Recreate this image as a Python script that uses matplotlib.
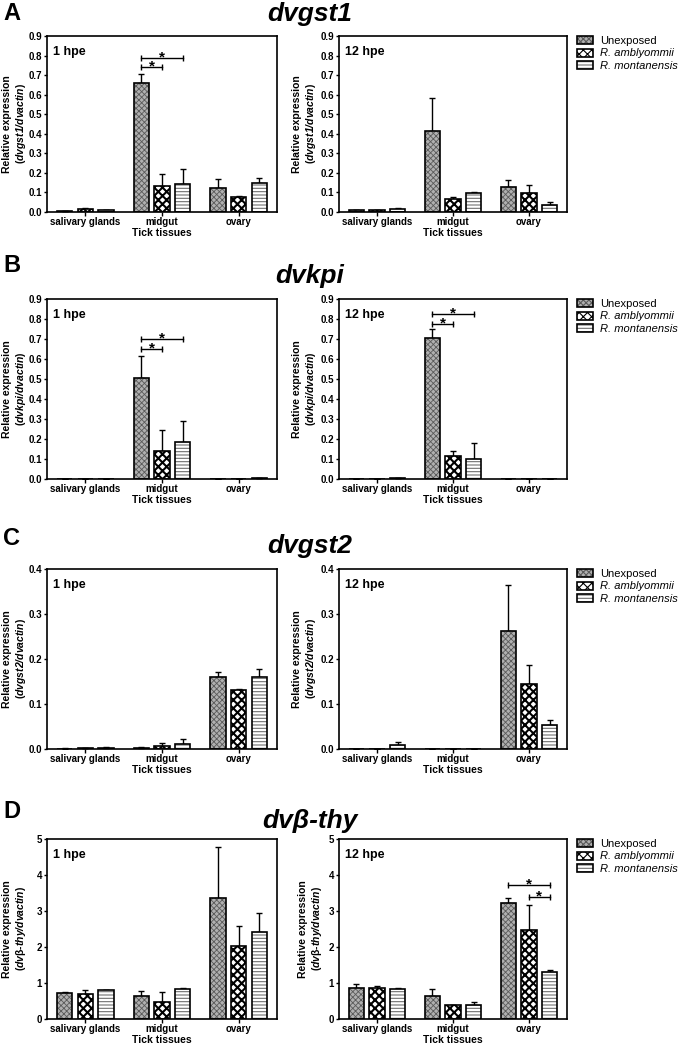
import matplotlib
matplotlib.use('Agg')
import matplotlib.pyplot as plt
import numpy as np
from matplotlib.patches import Patch

plt.rcParams['font.family'] = ['Liberation Sans', 'DejaVu Sans']
plt.rcParams['font.weight'] = 'bold'
plt.rcParams['axes.labelweight'] = 'bold'
plt.rcParams['mathtext.fontset'] = 'custom'
plt.rcParams['mathtext.bfit'] = 'Liberation Sans:italic:bold'
plt.rcParams['mathtext.rm'] = 'Liberation Sans:bold'
plt.rcParams['hatch.linewidth'] = 0.8

# ---------------- data ----------------
tissues = ['salivary glands', 'midgut', 'ovary']
groups = ['Unexposed', 'R. amblyommii', 'R. montanensis']

# rows: Unexposed, R. amblyommii, R. montanensis ; columns: tissues
dvgst1_1h_mean = [[0.005, 0.662, 0.122], [0.015, 0.135, 0.078], [0.008, 0.144, 0.148]]
dvgst1_1h_sem = [[0.002, 0.043, 0.045], [0.006, 0.061, 0.005], [0.003, 0.075, 0.026]]
dvgst1_12h_mean = [[0.010, 0.414, 0.129], [0.008, 0.066, 0.096], [0.015, 0.098, 0.037]]
dvgst1_12h_sem = [[0.002, 0.170, 0.035], [0.004, 0.010, 0.041], [0.003, 0.004, 0.014]]

dvkpi_1h_mean = [[0.001, 0.505, 0.002], [0.001, 0.142, 0.001], [0.002, 0.187, 0.004]]
dvkpi_1h_sem = [[0.000, 0.111, 0.000], [0.000, 0.101, 0.000], [0.000, 0.102, 0.001]]
dvkpi_12h_mean = [[0.001, 0.706, 0.002], [0.001, 0.117, 0.001], [0.003, 0.100, 0.001]]
dvkpi_12h_sem = [[0.000, 0.043, 0.000], [0.000, 0.025, 0.000], [0.000, 0.079, 0.000]]

dvgst2_1h_mean = [[0.001, 0.003, 0.161], [0.002, 0.007, 0.132], [0.003, 0.011, 0.160]]
dvgst2_1h_sem = [[0.001, 0.001, 0.011], [0.001, 0.006, 0.001], [0.001, 0.011, 0.018]]
dvgst2_12h_mean = [[0.0005, 0.0003, 0.262], [0.001, 0.0003, 0.145], [0.009, 0.001, 0.054]]
dvgst2_12h_sem = [[0.000, 0.000, 0.102], [0.000, 0.000, 0.042], [0.007, 0.000, 0.011]]

dvbthy_1h_mean = [[0.716, 0.65, 3.35], [0.706, 0.48, 2.02], [0.80, 0.836, 2.42]]
dvbthy_1h_sem = [[0.034, 0.13, 1.44], [0.094, 0.26, 0.55], [0.01, 0.024, 0.53]]
dvbthy_12h_mean = [[0.864, 0.65, 3.225], [0.864, 0.39, 2.46], [0.836, 0.38, 1.30]]
dvbthy_12h_sem = [[0.103, 0.17, 0.145], [0.066, 0.01, 0.72], [0.019, 0.085, 0.075]]

# significance: (tissue index, group a, group b, bracket height)
dvgst1_1h_sig = [(1, 0, 1, 0.74), (1, 0, 2, 0.787)]
dvkpi_1h_sig = [(1, 0, 1, 0.65), (1, 0, 2, 0.70)]
dvkpi_12h_sig = [(1, 0, 1, 0.775), (1, 0, 2, 0.825)]
dvbthy_12h_sig = [(2, 1, 2, 3.39), (2, 0, 2, 3.72)]

# ---------------- styles ----------------
styles = [
    dict(face='#b0b0b0', hatch='xxxxxx', hcolor='#5a5a5a', hlw=0.6),
    dict(face='white', hatch='xxxx', hcolor='black', hlw=1.5),
    dict(face='white', hatch='-----', hcolor='#707070', hlw=0.8),
]
W, H = 680, 1050
fig = plt.figure(figsize=(W / 100, H / 100), dpi=100)

BAR_W = 0.2
OFF = 0.27


def fx(px):
    return px / W


def fy(py):
    return 1 - py / H


def make_ax(left, right, top, bottom):
    return fig.add_axes([fx(left), fy(bottom), fx(right - left), (bottom - top) / H])


def set_hl(p, lw):
    if hasattr(p, 'set_hatch_linewidth'):
        p.set_hatch_linewidth(lw)


def draw_panel(ax, width_px, means, sems, ymax, ystep, fmt, hpe, gene_lbl, sig, lab_off):
    x = np.arange(len(tissues))
    for g in range(3):
        st = styles[g]
        xs = x + (g - 1) * OFF
        m = np.array(means[g])
        e = np.array(sems[g])
        ax.errorbar(xs, m, yerr=[np.zeros_like(e), e], fmt='none', ecolor='black',
                    elinewidth=1.0, capsize=2.5, capthick=1.0, zorder=1.5)
        bars = ax.bar(xs, m, BAR_W, color=st['face'], edgecolor=st['hcolor'], linewidth=0,
                      hatch=st['hatch'], zorder=2)
        for b in bars:
            set_hl(b, st['hlw'])
        ax.bar(xs, m, BAR_W, fill=False, edgecolor='black', linewidth=1.2, zorder=3)
    for (t, a, b, yv) in sig:
        xa = t + (a - 1) * OFF
        xb = t + (b - 1) * OFF
        ax.plot([xa, xb], [yv, yv], color='black', lw=1.0, zorder=4)
        ax.plot([xa, xb], [yv, yv], ls='none', marker='|', ms=4, mew=1.0, color='black', zorder=4)
        ax.annotate('*', xy=((xa + xb) / 2, yv), xytext=(0, -2.5), textcoords='offset points',
                    ha='center', va='baseline', fontsize=11, fontweight='bold')
    ax.set_xlim(-0.5, 2.5)
    ax.set_ylim(0, ymax)
    ticks = np.arange(0, ymax + ystep / 2, ystep)
    ax.set_yticks(ticks)
    ax.set_yticklabels([fmt.format(v) for v in ticks])
    ax.set_xticks(x)
    ax.set_xticklabels(tissues)
    ax.tick_params(axis='y', direction='out', length=2.5, width=1.0, pad=1, labelsize=7)
    ax.tick_params(axis='x', direction='out', length=3, width=1.0, pad=0.5, labelsize=7)
    for s in ax.spines.values():
        s.set_linewidth(1.2)
    ax.set_xlabel('Tick tissues', fontsize=7.5, labelpad=1)
    ax.set_ylabel('Relative expression\n(' + gene_lbl + ')', fontsize=7.5,
                  linespacing=1.2)
    ax.yaxis.set_label_coords(-lab_off / width_px, 0.5)
    ax.annotate(hpe, xy=(0, 1), xycoords='axes fraction', xytext=(4.5, -13.5),
                textcoords='offset points', ha='left', va='baseline', fontsize=9,
                fontweight='bold')


def add_legend(top_px):
    handles = []
    for st in styles:
        p1 = Patch(facecolor=st['face'], edgecolor=st['hcolor'], hatch=st['hatch'], linewidth=0)
        set_hl(p1, st['hlw'])
        p2 = Patch(fill=False, edgecolor='black', linewidth=1.2)
        handles.append((p1, p2))
    leg = fig.legend(handles, groups, loc='upper left',
                     bbox_to_anchor=(fx(577), fy(top_px)), bbox_transform=fig.transFigure,
                     frameon=False, fontsize=8, handlelength=1.45, handleheight=0.72,
                     handletextpad=0.6, labelspacing=0.22, borderpad=0, borderaxespad=0)
    for i, t in enumerate(leg.get_texts()):
        t.set_fontweight('normal')
        if i > 0:
            t.set_fontstyle('italic')


LEFT = (47, 277)
RIGHT = (339, 567)
rows = [
    dict(top=36, bot=212, letter='A', lb=20, gene='dvgst1', gb=21, offs=(19, 21),
         lbl1=r'$\mathbfit{dvgst1/dvactin}$', ymax=0.9, step=0.1, fmt='{:.1f}',
         d1=(dvgst1_1h_mean, dvgst1_1h_sem, dvgst1_1h_sig),
         d12=(dvgst1_12h_mean, dvgst1_12h_sem, [])),
    dict(top=299, bot=479, letter='B', lb=272, gene='dvkpi', gb=283, offs=(19, 21),
         lbl1=r'$\mathbfit{dvkpi/dvactin}$', ymax=0.9, step=0.1, fmt='{:.1f}',
         d1=(dvkpi_1h_mean, dvkpi_1h_sem, dvkpi_1h_sig),
         d12=(dvkpi_12h_mean, dvkpi_12h_sem, dvkpi_12h_sig)),
    dict(top=569, bot=749, letter='C', lb=545, gene='dvgst2', gb=553, offs=(19, 21),
         lbl1=r'$\mathbfit{dvgst2/dvactin}$', ymax=0.4, step=0.1, fmt='{:.1f}',
         d1=(dvgst2_1h_mean, dvgst2_1h_sem, []),
         d12=(dvgst2_12h_mean, dvgst2_12h_sem, [])),
    dict(top=839, bot=1019, letter='D', lb=818, gene='dvβ-thy', gb=828, offs=(19, 15),
         lbl1=r'$\mathbfit{dv}$β-$\mathbfit{thy/dvactin}$', ymax=5, step=1, fmt='{:.0f}',
         d1=(dvbthy_1h_mean, dvbthy_1h_sem, []),
         d12=(dvbthy_12h_mean, dvbthy_12h_sem, dvbthy_12h_sig)),
]

for r in rows:
    axL = make_ax(LEFT[0], LEFT[1], r['top'], r['bot'])
    axR = make_ax(RIGHT[0], RIGHT[1], r['top'], r['bot'])
    draw_panel(axL, LEFT[1] - LEFT[0], r['d1'][0], r['d1'][1], r['ymax'], r['step'], r['fmt'],
               '1 hpe', r['lbl1'], r['d1'][2], r['offs'][0])
    draw_panel(axR, RIGHT[1] - RIGHT[0], r['d12'][0], r['d12'][1], r['ymax'], r['step'],
               r['fmt'], '12 hpe', r['lbl1'], r['d12'][2], r['offs'][1])
    add_legend(r['top'])
    fig.text(fx(3), fy(r['lb']), r['letter'], fontsize=17, fontweight='bold',
             ha='left', va='baseline')
    fig.text(fx(310), fy(r['gb']), r['gene'], fontsize=19, fontweight='bold',
             fontstyle='italic', ha='center', va='baseline')

fig.savefig('out.png', dpi=100)
